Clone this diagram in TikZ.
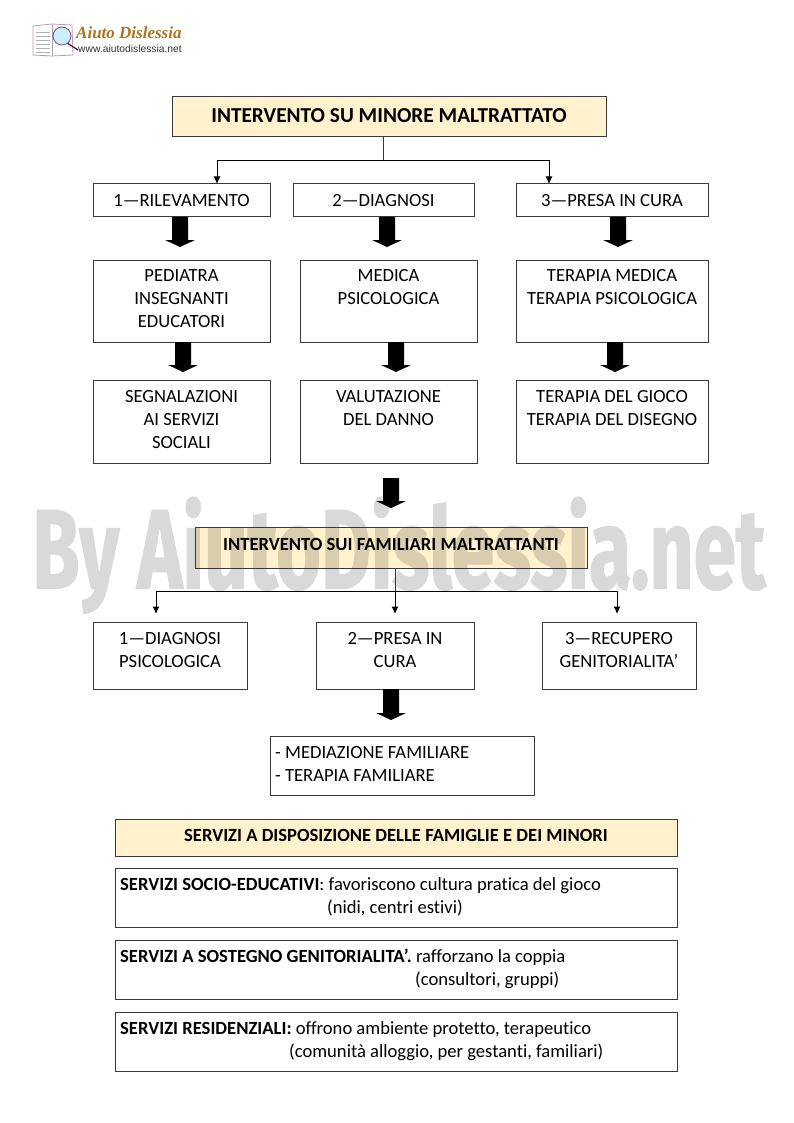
\documentclass[tikz,border=0pt]{standalone}
\usepackage{fontspec}
\usepackage{graphicx}
\setmainfont[Ligatures=NoCommon]{Carlito}
\newfontfamily\logofont{Liberation Serif}
\newfontfamily\urlfont{Liberation Sans}
\newfontfamily\wmfont[BoldFeatures={FakeBold=1.6}]{Fira Sans}
\definecolor{cream}{HTML}{FFF2CC}
\definecolor{edge}{HTML}{3A3A3A}
\definecolor{logogold}{HTML}{A9741F}
\definecolor{wmgray}{HTML}{D9D9D9}
\definecolor{wmtan}{HTML}{D9CDAD}
\tikzset{
  boxst/.style={draw=edge,line width=1pt,fill=white,inner sep=0pt,outer sep=0pt},
  headst/.style={boxst,fill=cream},
  lab/.style={inner sep=0pt,align=center,font=\fontsize{18.6}{23}\selectfont,text=black},
  lableft/.style={inner sep=0pt,anchor=west,align=left,font=\fontsize{18.6}{23}\selectfont,text=black},
  conn/.style={draw=edge,line width=1pt},
  tip/.style={conn,-{Latex[length=7.5pt,width=7pt]},black},
  fat/.style={fill=black,draw=none},
  wmst/.style={inner sep=0pt,anchor=north west}
}
\usetikzlibrary{arrows.meta}
% name, x1,y1,x2,y2, style
\newcommand{\bx}[6]{\node[#6,minimum width=#4pt-#2pt,minimum height=#5pt-#3pt] (#1) at ({(#2+#4)/2},{(#3+#5)/2}) {};}
% x, ytop, ybottom
\newcommand{\fatarr}[3]{\fill[fat] (#1-8,#2) -- (#1+8,#2) -- (#1+8,#3-7) -- (#1+15,#3-7) -- (#1,#3) -- (#1-15,#3-7) -- (#1-8,#3-7) -- cycle;}
\newcommand{\wmtext}{\resizebox*{733pt}{116pt}{\wmfont\bfseries By AiutoDislessia.net}}
\begin{document}
\begin{tikzpicture}[x=1pt,y=-1pt]
\useasboundingbox (0,0) rectangle (793,1123);
\fill[white] (0,0) rectangle (793,1123);

% logo
\fill[white,draw=black!35!violet!40,line width=.8pt] (33,26) -- (52,24) -- (72,25) -- (73,55) -- (52,56) -- (33,55) -- cycle;
\draw[black!35,line width=.6pt] (52,24) -- (52,56);
\foreach \yy in {32,36,40,44,48,52}{\draw[black!30,line width=.7pt] (36,\yy) -- (50,\yy);}
\draw[violet!60!black,line width=1.2pt] (67,43) -- (78,50);
\fill[cyan!20,draw=violet!40!gray,line width=.8pt] (62,36) circle (9);
\node[inner sep=0pt,anchor=west,font=\logofont\bfseries\itshape\fontsize{17}{18}\selectfont,text=logogold] (logotitle) at (76,32.5) {Aiuto Dislessia};
\node[inner sep=0pt,anchor=west,font=\urlfont\fontsize{10.3}{11}\selectfont,text=black!80] (logourl) at (78,49) {www.aiutodislessia.net};

% watermark on the page
\node[wmst,text=wmgray] (wm) at (32,497) {\wmtext};

% boxes
\bx{title}{172}{97}{606}{137}{headst}
\bx{ra}{93}{184}{270}{217}{boxst}
\bx{rb}{293}{184}{474}{217}{boxst}
\bx{rc}{516}{184}{708}{217}{boxst}
\bx{sa}{93}{260}{270}{342}{boxst}
\bx{sb}{300}{260}{477}{342}{boxst}
\bx{sc}{516}{260}{708}{342}{boxst}
\bx{ta}{93}{380}{270}{463}{boxst}
\bx{tb}{300}{380}{477}{463}{boxst}
\bx{tc}{516}{380}{708}{463}{boxst}
\bx{fam}{195}{527}{587}{568}{headst}
\bx{fa}{93}{622}{247}{689}{boxst}
\bx{fb}{316}{622}{474}{689}{boxst}
\bx{fc}{542}{622}{696}{689}{boxst}
\bx{med}{270}{736}{534}{795}{boxst}
\bx{serv}{115}{819}{677}{856}{headst}
\bx{sva}{115}{868}{677}{927}{boxst}
\bx{svb}{115}{940}{677}{999}{boxst}
\bx{svc}{115}{1012}{677}{1071}{boxst}

% watermark seen through the cream box
\begin{scope}
\clip (fam.south west) rectangle (fam.north east);
\node[wmst,text=wmtan] (wmb) at (32,497) {\wmtext};
\end{scope}
\draw[edge,line width=1pt] (fam.south west) rectangle (fam.north east);

% connectors
\coordinate (tj) at (383,160.5);
\coordinate (tl) at (217,184);
\coordinate (tr) at (549,184);
\coordinate (fj) at (395,591);
\coordinate (fl) at (156,614);
\coordinate (fm) at (395,614);
\coordinate (fr) at (617,614);
\draw[conn] (title.south -| tj) -- (tj);
\draw[tip] (tj) -| (tl);
\draw[tip] (tj) -| (tr);
\draw[conn] (fam.south -| fj) -- (fj);
\draw[tip] (fj) -| (fl);
\draw[tip] (fj) -- (fm);
\draw[tip] (fj) -| (fr);

% block arrows
\fatarr{180}{217}{247}
\fatarr{387}{217}{247}
\fatarr{618}{217}{247}
\fatarr{183}{342}{372}
\fatarr{396}{342}{372}
\fatarr{615}{342}{372}
\fatarr{391}{478}{508}
\fatarr{391}{689}{720}

% texts
\node[lab,font=\bfseries\fontsize{21.3}{24}\selectfont] (titlet) at (389,116) {INTERVENTO SU MINORE MALTRATTATO};
\node[lab] (rat) at (ra.center) {1—RILEVAMENTO};
\node[lab] (rbt) at (rb.center) {2—DIAGNOSI};
\node[lab] (rct) at (rc.center) {3—PRESA IN CURA};
\node[lab] (sat) at (181.5,299) {PEDIATRA\\INSEGNANTI\\EDUCATORI};
\node[lab] (sbt) at (388.5,287.5) {MEDICA\\PSICOLOGICA};
\node[lab] (sct) at (612,287.5) {TERAPIA MEDICA\\TERAPIA PSICOLOGICA};
\node[lab] (tat) at (181.5,420) {SEGNALAZIONI\\AI SERVIZI\\SOCIALI};
\node[lab] (tbt) at (388.5,408.5) {VALUTAZIONE\\DEL DANNO};
\node[lab] (tct) at (612,408.5) {TERAPIA DEL GIOCO\\TERAPIA DEL DISEGNO};
\node[lab,font=\bfseries\fontsize{18.6}{22}\selectfont] (famt) at (391,544) {INTERVENTO SUI FAMILIARI MALTRATTANTI};
\node[lab] (fat) at (170,650) {1—DIAGNOSI\\PSICOLOGICA};
\node[lab] (fbt) at (395,650) {2—PRESA IN\\CURA};
\node[lab] (fct) at (619,650) {3—RECUPERO\\GENITORIALITA’};
\node[lableft] (medt) at (275,763.5) {- MEDIAZIONE FAMILIARE\\- TERAPIA FAMILIARE};
\node[lab,font=\bfseries\fontsize{18.6}{22}\selectfont] (servt) at (396,835) {SERVIZI A DISPOSIZIONE DELLE FAMIGLIE E DEI MINORI};
\node[lableft] (svat) at (120,885.5) {\textbf{SERVIZI SOCIO-EDUCATIVI}: favoriscono cultura pratica del gioco};
\node[lableft] (svau) at (327,908) {(nidi, centri estivi)};
\node[lableft] (svbt) at (120,957) {\textbf{SERVIZI A SOSTEGNO GENITORIALITA’.} rafforzano la coppia};
\node[lableft] (svbu) at (415,980) {(consultori, gruppi)};
\node[lableft] (svct) at (120,1029.5) {\textbf{SERVIZI RESIDENZIALI:} offrono ambiente protetto, terapeutico};
\node[lableft] (svcu) at (289,1052) {(comunità alloggio, per gestanti, familiari)};
\end{tikzpicture}
\end{document}
